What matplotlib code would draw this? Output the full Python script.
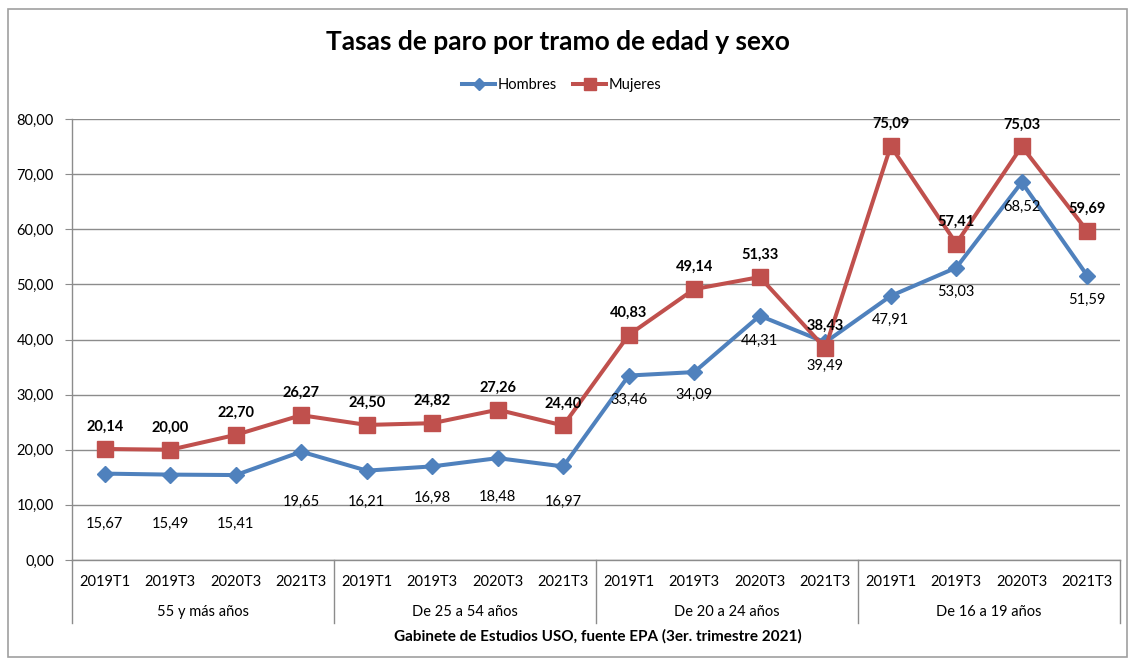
import matplotlib
matplotlib.use('Agg')
import matplotlib.pyplot as plt
from matplotlib.patches import Rectangle
from matplotlib.ticker import FuncFormatter

plt.rcParams['font.family'] = ['Lato', 'DejaVu Sans']

# data
periods = ['2019T1', '2019T3', '2020T3', '2021T3']
groups = ['55 y más años', 'De 25 a 54 años', 'De 20 a 24 años', 'De 16 a 19 años']
hombres = [15.67, 15.49, 15.41, 19.65, 16.21, 16.98, 18.48, 16.97,
           33.46, 34.09, 44.31, 39.49, 47.91, 53.03, 68.52, 51.59]
mujeres = [20.14, 20.00, 22.70, 26.27, 24.50, 24.82, 27.26, 24.40,
           40.83, 49.14, 51.33, 38.43, 75.09, 57.41, 75.03, 59.69]

# label offsets (pixels) for the Hombres labels, as placed in the original
h_offsets = [-50, -49, -49, -50, -31, -31, -39, -35,
             -24, -23, -25, -24, -24, -24, -25, -24]

BLUE = '#4F81BD'
RED = '#C0504D'
GRID = '#8C8C8C'


def fmt(v):
    return f'{v:.2f}'.replace('.', ',')


fig = plt.figure(figsize=(11.3, 6.6), dpi=100)
ax = fig.add_axes([72 / 1130, 1 - 560 / 660, 1048 / 1130, 441 / 660])

n = len(hombres)
x = list(range(n))
ax.plot(x, hombres, color=BLUE, lw=2.9, marker='D', ms=8, label='Hombres', zorder=3)
ax.plot(x, mujeres, color=RED, lw=2.9, marker='s', ms=11, label='Mujeres', zorder=3)

for i in x:
    ax.annotate(fmt(mujeres[i]), (i, mujeres[i]), xytext=(0, 22), textcoords='offset pixels',
                ha='center', va='center', fontsize=10.5, fontweight='bold', zorder=4)
    ax.annotate(fmt(hombres[i]), (i, hombres[i]), xytext=(0, h_offsets[i]),
                textcoords='offset pixels', ha='center', va='center', fontsize=10.5, zorder=4)

ax.set_xlim(-0.5, n - 0.5)
ax.set_ylim(0, 80)
ax.set_yticks(range(0, 81, 10))
ax.yaxis.set_major_formatter(FuncFormatter(lambda v, p: fmt(v)))
ax.tick_params(axis='y', length=5, color=GRID, labelsize=10.5, pad=8)
ax.set_xticks([])
ax.grid(axis='y', color=GRID, lw=1)
ax.set_axisbelow(True)
for s in ['top', 'right']:
    ax.spines[s].set_visible(False)
for s in ['left', 'bottom']:
    ax.spines[s].set_color(GRID)
    ax.spines[s].set_linewidth(1)

# two-level category axis
trans = ax.get_xaxis_transform()
for i in x:
    ax.text(i, -0.05, periods[i % len(periods)], transform=trans,
            ha='center', va='center', fontsize=10.5)
for g, name in enumerate(groups):
    mid = g * len(periods) + (len(periods) - 1) / 2
    ax.text(mid, -0.118, name, transform=trans, ha='center', va='center', fontsize=10.5)
for b in range(0, n + 1, len(periods)):
    ax.plot([b - 0.5, b - 0.5], [0, -0.143], transform=trans, color=GRID,
            lw=1, clip_on=False)

fig.text(598 / 1130, 1 - 636 / 660, 'Gabinete de Estudios USO, fuente EPA (3er. trimestre 2021)',
         ha='center', va='center', fontsize=11, fontweight='bold')

fig.text(558 / 1130, 1 - 42 / 660, 'Tasas de paro por tramo de edad y sexo',
         ha='center', va='center', fontsize=19, fontweight='bold')
fig.legend(loc='center', bbox_to_anchor=(562 / 1130, 1 - 85 / 660), ncol=2,
           frameon=False, fontsize=10.5, handlelength=2.25, columnspacing=1.1,
           handletextpad=0.2, markerscale=0.8)

fig.patches.append(Rectangle((8 / 1130, 3 / 660), 1119 / 1130, 648 / 660,
                             transform=fig.transFigure, fill=False,
                             edgecolor='#A0A0A0', lw=1.2))

fig.savefig('out.png', dpi=100)
